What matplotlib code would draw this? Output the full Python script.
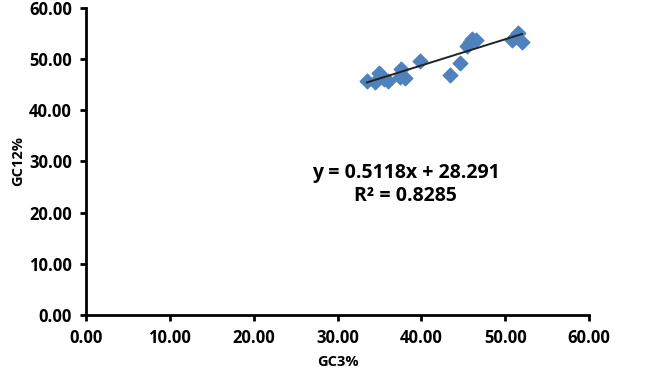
import numpy as np
import matplotlib.pyplot as plt

gc3 = [33.5, 34.5, 35.0, 35.5, 36.0, 37.4, 37.6, 38.0, 39.8, 43.4, 44.6,
       45.4, 45.8, 46.0, 46.5, 50.8, 51.2, 51.5, 52.0]
gc12 = [45.7, 45.5, 47.3, 46.2, 45.8, 46.5, 48.0, 46.3, 49.7, 46.8, 49.3,
        52.6, 53.3, 54.0, 53.8, 53.8, 54.3, 55.0, 53.3]
slope = 0.5118
intercept = 28.291
r2 = 0.8285

plt.rcParams['font.family'] = ['Open Sans', 'DejaVu Sans']

fig = plt.figure(figsize=(6.46, 3.76), dpi=100)
ax = fig.add_axes([0.133, 0.162, 0.779, 0.817])

ax.scatter(gc3, gc12, marker='D', s=55, color='#4F81BD', zorder=3)
xl = np.array([min(gc3), max(gc3)])
ax.plot(xl, slope * xl + intercept, color='#222222', lw=1.4, zorder=4)

ax.text(38.1, 27.8, f"y = {slope}x + {intercept}", ha='center', va='center',
        fontsize=14, fontweight='bold')
ax.text(38.1, 23.2, f"R\u00b2 = {r2}", ha='center', va='center',
        fontsize=14, fontweight='bold')

ax.set_xlim(0, 60)
ax.set_ylim(0, 60)
ticks = np.arange(0, 61, 10)
ax.set_xticks(ticks)
ax.set_yticks(ticks)
ax.set_xticklabels([f"{t:.2f}" for t in ticks], fontweight='bold', fontsize=12)
ax.set_yticklabels([f"{t:.2f}" for t in ticks], fontweight='bold', fontsize=12)
ax.set_xlabel("GC3%", fontweight='bold', fontsize=10.5, labelpad=6)
ax.set_ylabel("GC12%", fontweight='bold', fontsize=10.5, labelpad=3)

for s in ['top', 'right']:
    ax.spines[s].set_visible(False)
for s in ['left', 'bottom']:
    ax.spines[s].set_linewidth(2)
ax.tick_params(width=2, length=4, direction='out', pad=6)

fig.savefig("out.png", dpi=100)
